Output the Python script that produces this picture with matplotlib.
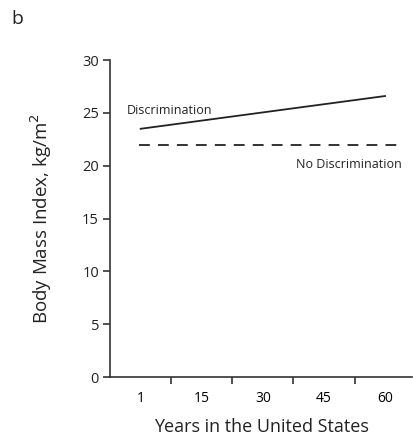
import matplotlib.pyplot as plt

plt.rcParams['font.family'] = ['Open Sans', 'DejaVu Sans']

# 데이터
years = ["1", "15", "30", "45", "60"]
disc_x = [0, 4]
disc_bmi = [23.5, 26.6]
nodisc_x = [-0.03, 4.2]
nodisc_bmi = [22.0, 22.0]

fig = plt.figure(figsize=(4.14, 4.42), dpi=100)
ax = fig.add_axes([0.266, 0.147, 0.729, 0.717])

ax.plot(disc_x, disc_bmi, color="#222222", lw=1.3)
ax.plot(nodisc_x, nodisc_bmi, color="#222222", lw=1.3, dashes=(6, 4.5))

ax.text(-0.23, 25.2, "Discrimination", fontsize=9, color="#222222", va="center")
ax.text(4.27, 20.1, "No Discrimination", fontsize=9, color="#222222", va="center", ha="right")

ax.set_xlim(-0.5, 4.44)
ax.set_ylim(0, 30)
ax.set_yticks(range(0, 31, 5))
ax.set_xticks([0.5, 1.5, 2.5, 3.5])
ax.set_xticklabels([])
ax.set_xticks(range(len(years)), minor=True)
ax.set_xticklabels(years, minor=True)
ax.tick_params(axis="x", which="minor", length=0, pad=10)
ax.tick_params(axis="x", which="major", length=5, width=1.2, color="#333333")
ax.tick_params(axis="y", length=5, width=1.2, color="#333333", pad=3)
ax.tick_params(labelsize=10.5, labelcolor="#222222")

for s in ["top", "right"]:
    ax.spines[s].set_visible(False)
for s in ["left", "bottom"]:
    ax.spines[s].set_color("#333333")
    ax.spines[s].set_linewidth(1.2)

ax.set_xlabel("Years in the United States", fontsize=13, color="#222222", labelpad=9)
ax.set_ylabel("Body Mass Index, kg/m$^2$", fontsize=13.5, color="#222222", labelpad=20)

fig.text(0.028, 0.945, "b", fontsize=14, color="#222222")

fig.savefig("out.png", dpi=100)
